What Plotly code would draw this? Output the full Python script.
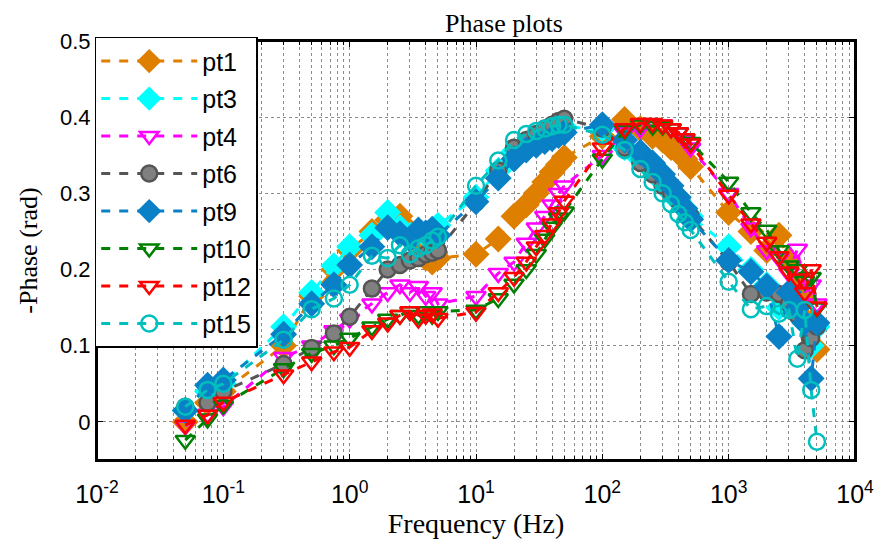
import plotly.graph_objects as go

freq = [0.05, 0.075, 0.1, 0.3, 0.5, 0.75, 1, 1.5, 2, 2.5, 3, 3.5, 4, 4.5, 5,
        10, 15, 20, 25, 30, 35, 40, 45, 50,
        100, 150, 200, 250, 300, 350, 400, 450, 500,
        1000, 1500, 2000, 2500, 3000, 3500, 4000, 4500, 5000]

pt1 = [0.0, 0.025, 0.04, 0.1, 0.165, 0.2, 0.225, 0.25, 0.265, 0.27, 0.25, 0.235, 0.215, 0.21, 0.215,
       0.22, 0.24, 0.27, 0.285, 0.3, 0.315, 0.328, 0.338, 0.347,
       0.375, 0.397, 0.385, 0.375, 0.37, 0.36, 0.355, 0.345, 0.335,
       0.275, 0.25, 0.225, 0.245, 0.21, 0.18, 0.16, 0.13, 0.095]
pt3 = [0.015, 0.04, 0.05, 0.125, 0.17, 0.205, 0.23, 0.245, 0.275, 0.255, 0.245, 0.25, 0.245, 0.25, 0.258,
       0.295, 0.33, 0.355, 0.365, 0.37, 0.375, 0.38, 0.385, 0.387,
       0.385, 0.36, 0.345, 0.33, 0.315, 0.3, 0.29, 0.28, 0.27,
       0.23, 0.2, 0.18, 0.15, 0.155, 0.15, 0.13, 0.1, 0.125]
pt4 = [-0.005, 0.01, 0.02, 0.085, 0.1, 0.12, 0.135, 0.155, 0.17, 0.18, 0.17, 0.178, 0.165, 0.17, 0.155,
       0.165, 0.195, 0.21, 0.235, 0.255, 0.27, 0.285, 0.3, 0.31,
       0.35, 0.38, 0.385, 0.39, 0.39, 0.385, 0.38, 0.37, 0.36,
       0.3, 0.255, 0.225, 0.215, 0.195, 0.227, 0.17, 0.18, 0.155]
pt6 = [0.02, 0.025, 0.04, 0.076, 0.097, 0.116, 0.138, 0.175, 0.2, 0.206, 0.212, 0.215, 0.22, 0.222, 0.225,
       0.288, 0.33, 0.36, 0.37, 0.378, 0.385, 0.39, 0.395, 0.398,
       0.385, 0.36, 0.34, 0.325, 0.31, 0.3, 0.29, 0.28, 0.27,
       0.21, 0.168, 0.17, 0.168, 0.155, 0.14, 0.094, 0.11, 0.125]
pt9 = [0.015, 0.048, 0.055, 0.115, 0.155, 0.18, 0.206, 0.23, 0.255, 0.247, 0.24, 0.252, 0.248, 0.253, 0.245,
       0.289, 0.32, 0.345, 0.357, 0.363, 0.368, 0.372, 0.376, 0.38,
       0.39, 0.37, 0.354, 0.34, 0.325, 0.31, 0.295, 0.28, 0.266,
       0.212, 0.197, 0.178, 0.112, 0.17, 0.15, 0.13, 0.057, 0.13]
pt10 = [-0.024, 0.004, 0.022, 0.07, 0.09, 0.1, 0.11, 0.125, 0.135, 0.14, 0.145, 0.14, 0.145, 0.14, 0.145,
        0.147, 0.162, 0.181, 0.2, 0.22, 0.24, 0.256, 0.268, 0.276,
        0.345, 0.383, 0.39, 0.388, 0.388, 0.385, 0.38, 0.372, 0.367,
        0.315, 0.275, 0.252, 0.225, 0.205, 0.2, 0.185, 0.19, 0.15]
pt12 = [-0.004, 0.009, 0.026, 0.062, 0.079, 0.092, 0.098, 0.12, 0.13, 0.14, 0.145, 0.135, 0.14, 0.142, 0.136,
        0.144, 0.17, 0.19, 0.21, 0.23, 0.245, 0.26, 0.275, 0.29,
        0.36, 0.385, 0.392, 0.392, 0.39, 0.385, 0.38, 0.372, 0.365,
        0.298, 0.26, 0.236, 0.217, 0.197, 0.188, 0.17, 0.2, 0.151]
pt15 = [0.02, 0.042, 0.05, 0.108, 0.148, 0.162, 0.18, 0.218, 0.215, 0.232, 0.22, 0.228, 0.232, 0.238, 0.243,
        0.31, 0.343, 0.37, 0.378, 0.382, 0.385, 0.388, 0.39, 0.39,
        0.377, 0.357, 0.332, 0.315, 0.3, 0.286, 0.273, 0.262, 0.252,
        0.184, 0.148, 0.152, 0.142, 0.147, 0.083, 0.147, 0.042, -0.026]

x_tickvals = [0.01, 0.1, 1, 10, 100, 1000, 10000]
x_ticktext = ['10<sup>-2</sup>', '10<sup>-1</sup>', '10<sup>0</sup>', '10<sup>1</sup>',
              '10<sup>2</sup>', '10<sup>3</sup>', '10<sup>4</sup>']

series = [
    ('pt1', pt1, 'diamond', '#DF7F00', '#DF7F00', '#DF7F00', 18),
    ('pt3', pt3, 'diamond', '#00FFFF', '#00FFFF', '#00FFFF', 18),
    ('pt4', pt4, 'triangle-down-open', '#FF00FF', '#FF00FF', '#FF00FF', 17),
    ('pt6', pt6, 'circle', '#555555', '#808080', '#555555', 16),
    ('pt9', pt9, 'diamond', '#0A80C6', '#0A80C6', '#0A80C6', 18),
    ('pt10', pt10, 'triangle-down-open', '#008000', '#008000', '#008000', 17),
    ('pt12', pt12, 'triangle-down-open', '#FF0000', '#FF0000', '#FF0000', 17),
    ('pt15', pt15, 'circle-open', '#00BFBF', '#00BFBF', '#00BFBF', 16),
]

fig = go.Figure()
for name, vals, symbol, lcol, fcol, mline, size in series:
    fig.add_trace(go.Scatter(
        x=freq, y=vals, name=name, legendgroup=name, mode='lines+markers',
        line=dict(color=lcol, width=3, dash='dash'),
        marker=dict(symbol=symbol, size=size, color=fcol,
                    line=dict(color=mline, width=2.5)),
    ))

grid = dict(showgrid=True, gridcolor='#8c8c8c', gridwidth=1, griddash='dot')
fig.update_xaxes(
    type='log', range=[-2, 4], tickvals=x_tickvals, ticktext=x_ticktext,
    showline=True, linecolor='black', linewidth=2, mirror='allticks',
    ticks='inside', ticklen=6, tickcolor='black', automargin=False,
    ticklabelstandoff=11,
    minor=dict(dtick='D1', ticks='inside', ticklen=4, tickcolor='black', **grid),
    title=dict(text='Frequency (Hz)', font=dict(family='Liberation Serif', size=28, color='black'), standoff=2),
    tickfont=dict(family='Liberation Sans', size=25, color='black'),
    zeroline=False, **grid,
)
fig.update_yaxes(
    range=[-0.05, 0.5], dtick=0.1, tick0=0,
    showline=True, linecolor='black', linewidth=2, mirror='allticks',
    ticks='inside', ticklen=6, tickcolor='black', automargin=False,
    title=dict(text='-Phase (rad)', font=dict(family='Liberation Serif', size=26, color='black')),
    tickfont=dict(family='Liberation Sans', size=22, color='black'),
    zeroline=False, **grid,
)
# frame round the plot area
fig.add_shape(type='rect', xref='paper', yref='paper', x0=0, x1=1, y0=0, y1=1,
              line=dict(color='black', width=2), layer='above')
# the page body adds an 8px margin, so the figure is 16px smaller than the window
fig.update_layout(
    width=867, height=532,
    margin=dict(l=89, r=20, t=33, b=80),
    plot_bgcolor='white', paper_bgcolor='white',
    title=dict(text='Phase plots', x=0.572, xanchor='center', y=0.99, yanchor='top',
               font=dict(family='Liberation Serif', size=26, color='black')),
    legend=dict(x=-0.003, y=1.01, xanchor='left', yanchor='top', bgcolor='white',
                bordercolor='black', borderwidth=1.5, tracegroupgap=2, maxheight=420,
                itemwidth=96,
                font=dict(family='Liberation Sans', size=25, color='black')),
    showlegend=True,
)
fig.write_html('out.html')
